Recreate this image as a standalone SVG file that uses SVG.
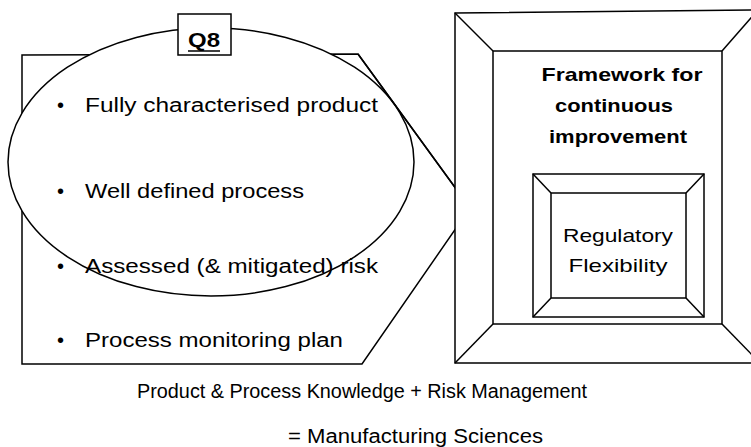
<svg xmlns="http://www.w3.org/2000/svg" width="751" height="447" viewBox="0 0 751 447">
<style>
.ln{fill:none;stroke:#000;stroke-width:1.5}
.wf{fill:#fff;stroke:#000;stroke-width:1.5}
.t{font-family:"Liberation Sans",Arial,sans-serif;font-size:20px;fill:#000}
.b{font-weight:bold}
.s{font-size:19px}
</style>
<rect width="751" height="447" fill="#fff"/>
<g id="q8-panel">
<polygon class="wf" points="22,55 358,54 470,208 362,364 22,364"/>
<ellipse class="wf" cx="211" cy="162" rx="203" ry="134"/>
<polyline class="ln" points="358,54 470,208"/>
<rect class="wf" x="178" y="14" width="53" height="41"/>
<text class="t b" x="204" y="47" text-anchor="middle" textLength="32" lengthAdjust="spacingAndGlyphs">Q8</text>
<line x1="188" y1="51" x2="220" y2="51" stroke="#000" stroke-width="1.5"/>
<text class="t" x="57" y="112">•</text>
<text class="t" x="85" y="112" textLength="293" lengthAdjust="spacingAndGlyphs">Fully characterised product</text>
<text class="t" x="57" y="198">•</text>
<text class="t" x="85" y="198" textLength="219" lengthAdjust="spacingAndGlyphs">Well defined process</text>
<text class="t" x="57" y="273">•</text>
<text class="t" x="85" y="273" textLength="293" lengthAdjust="spacingAndGlyphs">Assessed (&amp; mitigated) risk</text>
<text class="t" x="57" y="347">•</text>
<text class="t" x="85" y="347" textLength="258" lengthAdjust="spacingAndGlyphs">Process monitoring plan</text>
</g>
<g id="framework">
<polygon class="wf" points="455,13 758,10 758,363 455,363"/>
<rect class="wf" x="493" y="51" width="229" height="273"/>
<line class="ln" x1="455" y1="13" x2="493" y2="51"/>
<line class="ln" x1="758" y1="10" x2="722" y2="51"/>
<line class="ln" x1="455" y1="363" x2="493" y2="324"/>
<line class="ln" x1="760" y1="363" x2="722" y2="324"/>
<text class="t b s" x="622" y="81" text-anchor="middle" textLength="161" lengthAdjust="spacingAndGlyphs">Framework for</text>
<text class="t b s" x="614" y="112" text-anchor="middle" textLength="118" lengthAdjust="spacingAndGlyphs">continuous</text>
<text class="t b s" x="618" y="143" text-anchor="middle" textLength="138" lengthAdjust="spacingAndGlyphs">improvement</text>
</g>
<g id="regulatory">
<rect class="wf" x="533" y="174" width="171" height="143"/>
<rect class="wf" x="551" y="193" width="135" height="105"/>
<line class="ln" x1="533" y1="174" x2="551" y2="193"/>
<line class="ln" x1="704" y1="174" x2="686" y2="193"/>
<line class="ln" x1="533" y1="317" x2="551" y2="298"/>
<line class="ln" x1="704" y1="317" x2="686" y2="298"/>
<text class="t s" x="618" y="242" text-anchor="middle" textLength="110" lengthAdjust="spacingAndGlyphs">Regulatory</text>
<text class="t s" x="618" y="272" text-anchor="middle" textLength="99" lengthAdjust="spacingAndGlyphs">Flexibility</text>
</g>
<g id="caption">
<text class="t" x="137" y="398" textLength="450" lengthAdjust="spacingAndGlyphs">Product &amp; Process Knowledge + Risk Management</text>
<text class="t" x="288" y="443" textLength="255" lengthAdjust="spacingAndGlyphs">= Manufacturing Sciences</text>
</g>
<g id="connectors"></g>
</svg>
